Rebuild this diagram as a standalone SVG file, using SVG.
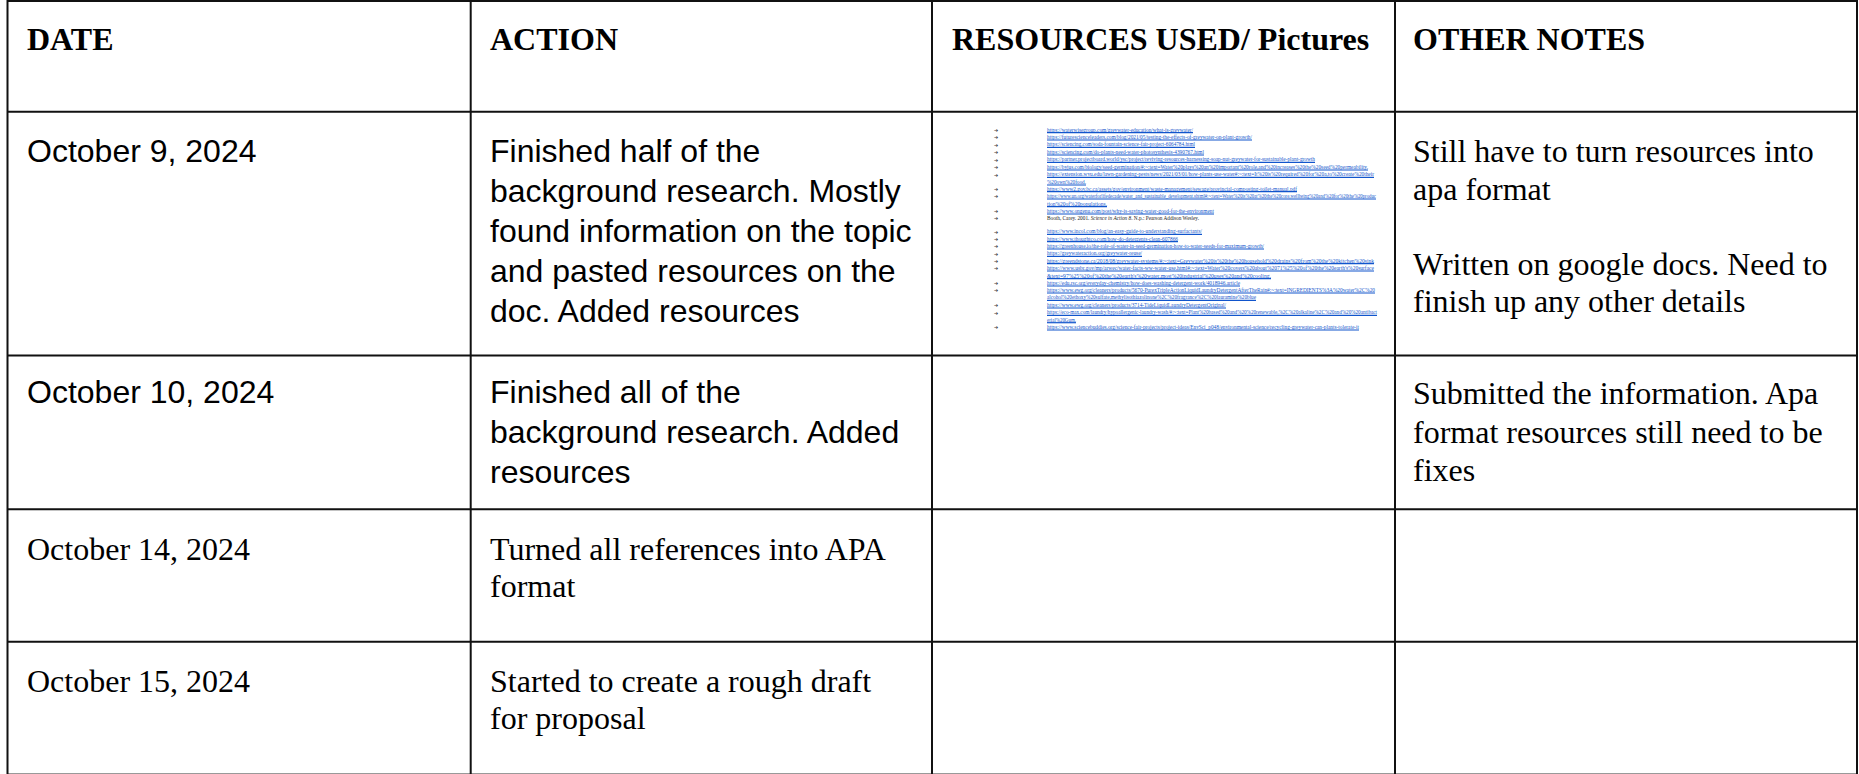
<svg xmlns="http://www.w3.org/2000/svg" width="1859" height="774" viewBox="0 0 1859 774">
<style>
.grid{stroke:#111;stroke-width:2;fill:none}
.hd{font-family:"Liberation Serif","Times New Roman",serif;font-weight:bold;font-size:32px;fill:#000}
.ar{font-family:"Liberation Sans",Arial,sans-serif;font-size:32px;fill:#000}
.tr{font-family:"Liberation Serif","Times New Roman",serif;font-size:32px;fill:#000}
.lk{font-family:"Liberation Serif","Times New Roman",serif;font-size:5.5px;fill:#1155cc}
.bk{font-family:"Liberation Serif","Times New Roman",serif;font-size:5.5px;fill:#222}
.bu{font-family:"DejaVu Sans",sans-serif;font-size:5px;fill:#333}
.ul{stroke:#1155cc;stroke-width:1.2}
</style>
<rect x="0" y="0" width="1859" height="774" fill="#fff"/>
<g id="table-grid">
<line class="grid" x1="7.5" y1="1" x2="1857" y2="1"/>
<line class="grid" x1="7.5" y1="111.7" x2="1857" y2="111.7"/>
<line class="grid" x1="7.5" y1="355.5" x2="1857" y2="355.5"/>
<line class="grid" x1="7.5" y1="509.3" x2="1857" y2="509.3"/>
<line class="grid" x1="7.5" y1="641.7" x2="1857" y2="641.7"/>
<line x1="7.5" y1="773.5" x2="1857" y2="773.5" stroke="#999" stroke-width="1"/>
<line class="grid" x1="7.5" y1="0" x2="7.5" y2="774"/>
<line class="grid" x1="470.7" y1="0" x2="470.7" y2="774"/>
<line class="grid" x1="932" y1="0" x2="932" y2="774"/>
<line class="grid" x1="1395" y1="0" x2="1395" y2="774"/>
<line class="grid" x1="1857" y1="0" x2="1857" y2="774"/>
</g>
<g id="header">
<text class="hd" x="27" y="50">DATE</text>
<text class="hd" x="490" y="50">ACTION</text>
<text class="hd" x="952" y="50">RESOURCES USED/ Pictures</text>
<text class="hd" x="1413" y="50">OTHER NOTES</text>
</g>
<g id="row-oct9">
<text class="ar" x="27" y="162">October 9, 2024</text>
<text class="ar" x="490" y="162">Finished half of the</text>
<text class="ar" x="490" y="202">background research. Mostly</text>
<text class="ar" x="490" y="242">found information on the topic</text>
<text class="ar" x="490" y="282">and pasted resources on the</text>
<text class="ar" x="490" y="322">doc. Added resources</text>
<g id="resources-list">
<g class="bu">
<text x="994" y="132">➔</text><text x="994" y="139.3">➔</text><text x="994" y="146.6">➔</text><text x="994" y="154.3">➔</text><text x="994" y="161.6">➔</text><text x="994" y="169.3">➔</text><text x="994" y="176.6">➔</text><text x="994" y="191">➔</text><text x="994" y="198.3">➔</text><text x="994" y="213.3">➔</text><text x="994" y="220.3">➔</text><text x="994" y="233.6">➔</text><text x="994" y="241">➔</text><text x="994" y="248.3">➔</text><text x="994" y="255.6">➔</text><text x="994" y="263">➔</text><text x="994" y="270.3">➔</text><text x="994" y="285.3">➔</text><text x="994" y="292.3">➔</text><text x="994" y="307.3">➔</text><text x="994" y="314.6">➔</text><text x="994" y="329.3">➔</text>
</g>
<g class="lk">
<text x="1047" y="131.5" textLength="146" lengthAdjust="spacingAndGlyphs">https://waterwisegroup.com/greywater-education/what-is-greywater/</text>
<text x="1047" y="138.8" textLength="205" lengthAdjust="spacingAndGlyphs">https://futurescienceleaders.com/blog/2021/05/testing-the-effects-of-greywater-on-plant-growth/</text>
<text x="1047" y="146.1" textLength="148" lengthAdjust="spacingAndGlyphs">https://sciencing.com/soda-fountain-science-fair-project-6064784.html</text>
<text x="1047" y="153.8" textLength="157" lengthAdjust="spacingAndGlyphs">https://sciencing.com/do-plants-need-water-photosynthesis-4390767.html</text>
<text x="1047" y="161.1" textLength="268" lengthAdjust="spacingAndGlyphs">https://partner.projectboard.world/ysc/project/reviving-resources-harnessing-soap-nut-greywater-for-sustainable-plant-growth</text>
<text x="1047" y="168.8" textLength="321" lengthAdjust="spacingAndGlyphs">https://byjus.com/biology/seed-germination/#:~:text=Water%20plays%20an%20important%20role,and%20increases%20the%20seed%20permeability.</text>
<text x="1047" y="176.1" textLength="327" lengthAdjust="spacingAndGlyphs">https://extension.wvu.edu/lawn-gardening-pests/news/2021/03/01/how-plants-use-water#:~:text=It%20is%20required%20for%20a,to%20create%20their</text>
<text x="1047" y="183.8" textLength="39" lengthAdjust="spacingAndGlyphs">%20own%20food.</text>
<text x="1047" y="190.5" textLength="250" lengthAdjust="spacingAndGlyphs">https://www2.gov.bc.ca/assets/gov/environment/waste-management/sewage/provincial-composting-toilet-manual.pdf</text>
<text x="1047" y="197.8" textLength="329" lengthAdjust="spacingAndGlyphs">https://www.un.org/waterforlifedecade/water_and_sustainable_development.shtml#:~:text=Water%20is%20at%20the%20core,wellbeing%20and%20for%20the%20produc</text>
<text x="1047" y="205.5" textLength="60" lengthAdjust="spacingAndGlyphs">tion%20of%20populations.</text>
<text x="1047" y="212.8" textLength="167" lengthAdjust="spacingAndGlyphs">https://www.ongenu.com/post/why-is-saving-water-good-for-the-environment</text>
<text class="bk" x="1047" y="220" textLength="152" lengthAdjust="spacingAndGlyphs">Booth, Carey. 2001. <tspan font-style="italic">Science in Action 8</tspan>. N.p.: Pearson Addison Wesley.</text>
<text x="1047" y="233.1" textLength="155" lengthAdjust="spacingAndGlyphs">https://www.incol.com/blog/an-easy-guide-to-understanding-surfactants/</text>
<text x="1047" y="240.5" textLength="131" lengthAdjust="spacingAndGlyphs">https://www.thoughtco.com/how-do-detergents-clean-607866</text>
<text x="1047" y="247.8" textLength="217" lengthAdjust="spacingAndGlyphs">https://greenhouse.io/the-role-of-water-in-seed-germination-how-to-water-seeds-for-maximum-growth/</text>
<text x="1047" y="255.1" textLength="95" lengthAdjust="spacingAndGlyphs">https://greywateraction.org/greywater-reuse/</text>
<text x="1047" y="262.5" textLength="327" lengthAdjust="spacingAndGlyphs">https://greendstone.ca/2018/08/greywater-systems/#:~:text=Greywater%20is%20the%20household%20drains%20from%20the%20kitchen%20sink</text>
<text x="1047" y="269.8" textLength="327" lengthAdjust="spacingAndGlyphs">https://www.usbr.gov/mp/arwec/water-facts-ww-water-use.html#:~:text=Water%20covers%20about%2071%25%20of%20the%20earth's%20surface</text>
<text x="1047" y="277.5" textLength="224" lengthAdjust="spacingAndGlyphs">&amp;text=97%25%20of%20the%20earth's%20water,most%20industrial%20uses%20and%20cooling.</text>
<text x="1047" y="284.8" textLength="193" lengthAdjust="spacingAndGlyphs">https://edu.rsc.org/everyday-chemistry/how-does-washing-detergent-work/4018946.article</text>
<text x="1047" y="291.8" textLength="328" lengthAdjust="spacingAndGlyphs">https://www.ewg.org/cleaners/products/5670-PurexTripleActionLiquidLaundryDetergentAfterTheRain#:~:text=INGREDIENTS%3A%20water%2C%20</text>
<text x="1047" y="299.1" textLength="209" lengthAdjust="spacingAndGlyphs">alcohol%20ethoxy%20sulfate,methylisothiazolinone%2C%20fragrance%2C%20lauramine%20blue</text>
<text x="1047" y="306.8" textLength="179" lengthAdjust="spacingAndGlyphs">https://www.ewg.org/cleaners/products/3714-TideLiquidLaundryDetergentOriginal/</text>
<text x="1047" y="314.1" textLength="330" lengthAdjust="spacingAndGlyphs">https://eco-max.com/laundry/hypoallergenic-laundry-wash/#:~:text=Plant%20based%20and%20%20renewable,%2C%20alkaline%2C%20and%20%20antibact</text>
<text x="1047" y="321.5" textLength="29" lengthAdjust="spacingAndGlyphs">erial%20Gum.</text>
<text x="1047" y="328.8" textLength="312" lengthAdjust="spacingAndGlyphs">https://www.sciencebuddies.org/science-fair-projects/project-ideas/EnvSci_p048/environmental-science/recycling-greywater-can-plants-tolerate-it</text>
</g>
<g class="ul">
<line x1="1047" y1="132.7" x2="1193" y2="132.7"/>
<line x1="1047" y1="140" x2="1252" y2="140"/>
<line x1="1047" y1="147.3" x2="1195" y2="147.3"/>
<line x1="1047" y1="155" x2="1204" y2="155"/>
<line x1="1047" y1="162.3" x2="1315" y2="162.3"/>
<line x1="1047" y1="170" x2="1368" y2="170"/>
<line x1="1047" y1="177.3" x2="1374" y2="177.3"/>
<line x1="1047" y1="185" x2="1086" y2="185"/>
<line x1="1047" y1="191.7" x2="1297" y2="191.7"/>
<line x1="1047" y1="199" x2="1376" y2="199"/>
<line x1="1047" y1="206.7" x2="1107" y2="206.7"/>
<line x1="1047" y1="214" x2="1214" y2="214"/>
<line x1="1047" y1="234.3" x2="1202" y2="234.3"/>
<line x1="1047" y1="241.7" x2="1178" y2="241.7"/>
<line x1="1047" y1="249" x2="1264" y2="249"/>
<line x1="1047" y1="256.3" x2="1142" y2="256.3"/>
<line x1="1047" y1="263.7" x2="1374" y2="263.7"/>
<line x1="1047" y1="271" x2="1374" y2="271"/>
<line x1="1047" y1="278.7" x2="1271" y2="278.7"/>
<line x1="1047" y1="286" x2="1240" y2="286"/>
<line x1="1047" y1="293" x2="1375" y2="293"/>
<line x1="1047" y1="300.3" x2="1256" y2="300.3"/>
<line x1="1047" y1="308" x2="1226" y2="308"/>
<line x1="1047" y1="315.3" x2="1377" y2="315.3"/>
<line x1="1047" y1="322.7" x2="1076" y2="322.7"/>
<line x1="1047" y1="330" x2="1359" y2="330"/>
</g>
</g>
<text class="tr" x="1413" y="162">Still have to turn resources into</text>
<text class="tr" x="1413" y="199.5">apa format</text>
<text class="tr" x="1413" y="274.5">Written on google docs. Need to</text>
<text class="tr" x="1413" y="312">finish up any other details</text>
</g>
<g id="row-oct10">
<text class="ar" x="27" y="403">October 10, 2024</text>
<text class="ar" x="490" y="403">Finished all of the</text>
<text class="ar" x="490" y="443">background research. Added</text>
<text class="ar" x="490" y="483">resources</text>
<text class="tr" x="1413" y="404">Submitted the information. Apa</text>
<text class="tr" x="1413" y="442.5">format resources still need to be</text>
<text class="tr" x="1413" y="481">fixes</text>
</g>
<g id="row-oct14">
<text class="tr" x="27" y="560">October 14, 2024</text>
<text class="tr" x="490" y="560">Turned all references into APA</text>
<text class="tr" x="490" y="597">format</text>
</g>
<g id="row-oct15">
<text class="tr" x="27" y="692">October 15, 2024</text>
<text class="tr" x="490" y="692">Started to create a rough draft</text>
<text class="tr" x="490" y="729">for proposal</text>
</g>
</svg>
